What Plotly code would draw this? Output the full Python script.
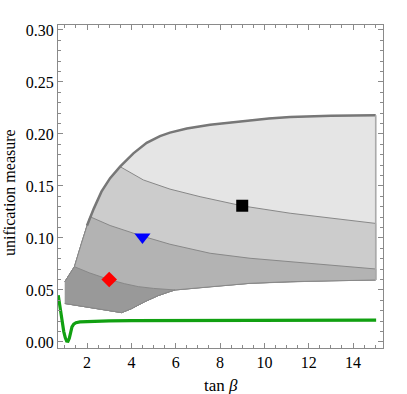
import plotly.graph_objects as go

# outer boundary of the allowed region (upper/left edge, then lower edge)
upper_x = [1.0, 1.43, 1.75, 2.0, 2.3, 2.65, 3.04, 3.49, 4.09, 4.69, 5.29, 5.74, 6.5, 7.55, 8.5, 9.35, 10.2, 11.16, 13.0, 15.02]
upper_y = [0.058, 0.0724, 0.095, 0.112, 0.128, 0.1445, 0.1575, 0.1686, 0.1814, 0.1915, 0.198, 0.2013, 0.2052, 0.2088, 0.2112, 0.2132, 0.2150, 0.2163, 0.2175, 0.218]
lower_x = [1.0, 3.56, 4.0, 4.61, 5.2, 5.74, 5.97, 7.55, 9.35, 11.16, 13.0, 15.02]
lower_y = [0.037, 0.0282, 0.032, 0.0388, 0.0445, 0.0485, 0.050, 0.0532, 0.0564, 0.058, 0.059, 0.0596]

# contour lines separating the shaded bands
line_a_x = [3.49, 4.54, 5.74, 7.1, 9.02, 11.16, 15.02]
line_a_y = [0.1686, 0.1558, 0.147, 0.1397, 0.1308, 0.1238, 0.114]
line_b_x = [2.13, 3.04, 4.46, 5.74, 7.55, 9.35, 11.16, 15.02]
line_b_y = [0.1205, 0.112, 0.102, 0.094, 0.0853, 0.0805, 0.0772, 0.0702]
line_c_x = [1.43, 2.1, 3.0, 3.7, 4.31, 5.0, 5.97]
line_c_y = [0.0724, 0.0665, 0.0600, 0.0560, 0.0532, 0.0515, 0.050]

# green curve
green_x = [0.70, 0.78, 0.86, 0.95, 1.02, 1.08, 1.14, 1.20, 1.26, 1.32, 1.40, 1.50, 1.68, 2.0, 2.5, 3.0, 4.0, 6.0, 8.0, 10.0, 12.0, 15.04]
green_y = [0.045, 0.033, 0.021, 0.010, 0.004, 0.0008, 0.0006, 0.0035, 0.009, 0.0145, 0.0172, 0.0185, 0.0193, 0.0197, 0.0200, 0.0202, 0.0205, 0.0207, 0.0208, 0.0210, 0.0210, 0.0210]

# benchmark points
pts_x = [3.0, 4.5, 9.0]
pts_y = [0.060, 0.101, 0.131]
pts_symbol = ["diamond", "triangle-down", "square"]
pts_color = ["#ff0000", "#0000ff", "#000000"]
pts_size = [12, 14, 12]


def _band(top_x, top_y, bot_x, bot_y):
    return top_x + bot_x[::-1], top_y + bot_y[::-1]


def _upto(xs, ys, xmax):
    keep = [i for i, x in enumerate(xs) if x <= xmax]
    return [xs[i] for i in keep], [ys[i] for i in keep]


def _before(xs, ys, xcut):
    keep = [i for i, x in enumerate(xs) if x < xcut]
    return [xs[i] for i in keep], [ys[i] for i in keep]


low_c_x, low_c_y = _upto(lower_x, lower_y, line_c_x[-1])
ua_x, ua_y = _before(upper_x, upper_y, line_a_x[0])
ub_x, ub_y = _before(upper_x, upper_y, line_b_x[0])
uc_x, uc_y = _before(upper_x, upper_y, line_c_x[0])

bands = [
    (_band(upper_x, upper_y, lower_x, lower_y), "#e5e5e5"),
    (_band(ua_x + line_a_x, ua_y + line_a_y, lower_x, lower_y), "#cccccc"),
    (_band(ub_x + line_b_x, ub_y + line_b_y, lower_x, lower_y), "#b3b3b3"),
    (_band(uc_x + line_c_x, uc_y + line_c_y, low_c_x, low_c_y), "#999999"),
]

fig = go.Figure()
for (bx, by), col in bands:
    fig.add_trace(go.Scatter(x=bx, y=by, fill="toself", fillcolor=col, mode="lines",
                             line=dict(color="#888888", width=1), hoverinfo="skip"))

# thick upper edge and light right edge
fig.add_trace(go.Scatter(x=upper_x[3:], y=upper_y[3:], mode="lines",
                         line=dict(color="#777777", width=2.5)))
fig.add_trace(go.Scatter(x=[upper_x[-1], lower_x[-1]], y=[upper_y[-1], lower_y[-1]], mode="lines",
                         line=dict(color="#aaaaaa", width=1.5)))

fig.add_trace(go.Scatter(x=green_x, y=green_y, mode="lines",
                         line=dict(color="#11a011", width=3.2)))

for x, y, s, c, sz in zip(pts_x, pts_y, pts_symbol, pts_color, pts_size):
    fig.add_trace(go.Scatter(x=[x], y=[y], mode="markers",
                             marker=dict(symbol=s, color=c, size=sz)))

axis_common = dict(
    showline=True, linecolor="#8a8a8a", linewidth=1, mirror="ticks",
    ticks="inside", tickcolor="#8a8a8a", ticklen=5, tickwidth=1,
    showgrid=False, zeroline=False, automargin=False,
    tickfont=dict(family="Liberation Serif", size=16, color="#000000"),
)

fig.update_layout(
    width=407, height=394,
    paper_bgcolor="white", plot_bgcolor="white",
    showlegend=False,
    margin=dict(l=58, r=24, t=25, b=46),
    font=dict(family="Liberation Serif", size=16, color="#000000"),
    xaxis=dict(range=[0.69, 15.35], tickvals=[2, 4, 6, 8, 10, 12, 14],
               minor=dict(dtick=0.5, tick0=0, ticklen=3, tickcolor="#8a8a8a", ticks="inside"),
               **axis_common),
    yaxis=dict(range=[-0.0058, 0.3048], tickvals=[0, 0.05, 0.1, 0.15, 0.2, 0.25, 0.3],
               tickformat=".2f",
               minor=dict(dtick=0.01, tick0=0, ticklen=3, tickcolor="#8a8a8a", ticks="inside"),
               **axis_common),
)

# axis titles placed by hand (automargin is off)
fig.add_annotation(text="tan <i>β</i>", xref="paper", yref="paper", x=0.5, y=0,
                   yanchor="middle", yshift=-37, showarrow=False, font=dict(size=17))
fig.add_annotation(text="unification measure", xref="paper", yref="paper", x=0, y=0.48,
                   xanchor="center", xshift=-48, textangle=-90, showarrow=False,
                   font=dict(size=16))

# drop the default 8px page margin so the figure sits at the window corner
fig.write_html("out.html", config={"displayModeBar": False},
               post_script="document.body.style.margin='0';")
